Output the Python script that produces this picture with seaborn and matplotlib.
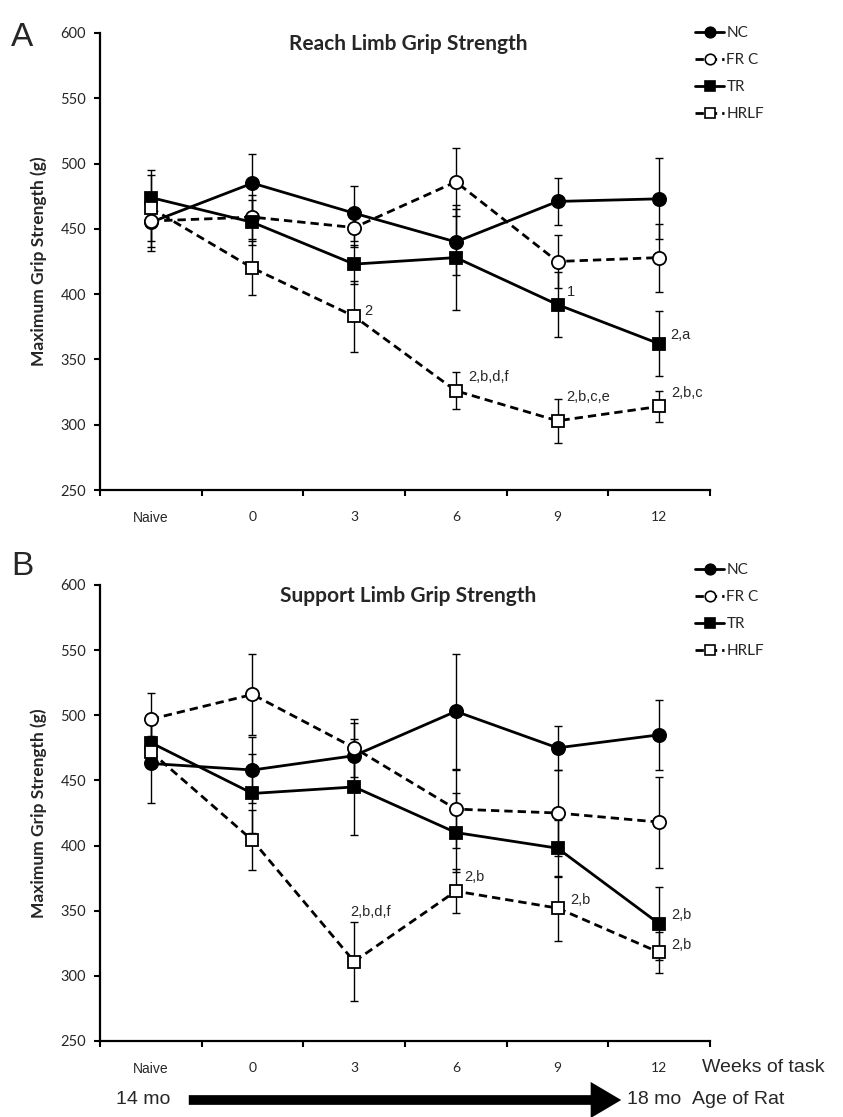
import matplotlib
matplotlib.use("Agg")
import numpy as np
import pandas as pd
import seaborn as sns
import matplotlib.pyplot as plt
from matplotlib.lines import Line2D
from matplotlib.patches import FancyArrowPatch

# ---------------- data ----------------
weeks = ["Naive", "0", "3", "6", "9", "12"]
groups = ["NC", "FR C", "TR", "HRLF"]

reach_nc = [455, 485, 462, 440, 471, 473]
reach_nc_err = [22, 22, 21, 25, 18, 31]
reach_frc = [456, 459, 451, 486, 425, 428]
reach_frc_err = [20, 17, 15, 26, 20, 26]
reach_tr = [474, 455, 423, 428, 392, 362]
reach_tr_err = [21, 17, 15, 40, 25, 25]
reach_hrlf = [466, 420, 383, 326, 303, 314]
reach_hrlf_err = [25, 21, 27, 14, 17, 12]

supp_nc = [463, 458, 469, 503, 475, 485]
supp_nc_err = [30, 25, 25, 44, 17, 27]
supp_frc = [497, 516, 475, 428, 425, 418]
supp_frc_err = [20, 31, 22, 30, 33, 35]
supp_tr = [479, 440, 445, 410, 398, 340]
supp_tr_err = [15, 30, 37, 30, 22, 28]
supp_hrlf = [472, 404, 311, 365, 352, 318]
supp_hrlf_err = [12, 23, 30, 17, 25, 16]

# annotations: (group, week index, text)
reach_notes = [("HRLF", 2, "2"), ("TR", 4, "1"), ("TR", 5, "2,a"),
               ("HRLF", 3, "2,b,d,f"), ("HRLF", 4, "2,b,c,e"), ("HRLF", 5, "2,b,c")]
supp_notes = [("HRLF", 2, "2,b,d,f"), ("HRLF", 3, "2,b"), ("HRLF", 4, "2,b"),
              ("TR", 5, "2,b"), ("HRLF", 5, "2,b")]

# ---------------- style ----------------
sns.set_theme(style="white")
plt.rcParams["font.family"] = ["Lato", "DejaVu Sans"]

W, H = 843, 1117
fig = plt.figure(figsize=(W / 100, H / 100), dpi=100)

def fx(px):
    return px / W

def fy(py):
    return 1 - py / H

styles = {
    "NC":   dict(marker="o", mfc="black", ls="-", ms=9.5),
    "FR C": dict(marker="o", mfc="white", ls=(0, (3, 1.8)), ms=9.5),
    "TR":   dict(marker="s", mfc="black", ls="-", ms=8.5),
    "HRLF": dict(marker="s", mfc="white", ls=(0, (3, 1.8)), ms=8.5),
}

def draw_panel(ax, series, errs, title, notes, label_offsets):
    pos = np.arange(len(weeks))
    for g in groups:
        df = pd.DataFrame({"pos": pos, "val": series[g], "week": weeks})
        st = styles[g]
        ax.errorbar(pos, series[g], yerr=errs[g], fmt="none", ecolor="black",
                    elinewidth=1.0, capsize=3, capthick=1.0, zorder=2)
        sns.lineplot(data=df, x="pos", y="val", ax=ax, color="black",
                     linewidth=2.0, linestyle=st["ls"], marker=st["marker"],
                     markersize=st["ms"], markerfacecolor=st["mfc"],
                     markeredgecolor="black", markeredgewidth=1.3,
                     errorbar=None, sort=False, zorder=3 + groups.index(g) * 0.1)
    ax.set_xlim(-0.5, 5.5)
    ax.set_ylim(250, 600)
    ax.set_yticks(np.arange(250, 601, 50))
    ax.set_xticks(pos)
    ax.set_xticklabels(weeks)
    ax.set_xticks(np.arange(-0.5, 6, 1), minor=True)
    ax.tick_params(axis="x", which="major", length=0, pad=15, labelsize=10)
    ax.tick_params(axis="x", which="minor", length=4, width=1.5, direction="out",
                   bottom=True, color="black")
    ax.tick_params(axis="y", which="major", length=4, width=1.5, direction="out",
                   left=True, pad=6, labelsize=10.5, color="black")
    ax.get_xticklabels()[0].set_family(["Liberation Sans"])
    for s in ["top", "right"]:
        ax.spines[s].set_visible(False)
    for s in ["left", "bottom"]:
        ax.spines[s].set_linewidth(1.6)
        ax.spines[s].set_color("black")
    ax.set_xlabel("")
    ax.set_ylabel("Maximum Grip Strength (g)", fontsize=12.5, fontweight="bold")
    ax.yaxis.set_label_coords(-0.087, 0.5)
    ax.text(0.505, 0.975, title, transform=ax.transAxes, ha="center", va="center",
            fontsize=15, fontweight="bold")
    for (g, i, txt), (dx, dy) in zip(notes, label_offsets):
        ax.annotate(txt, xy=(i, series[g][i]), xytext=(dx, dy), textcoords="offset points",
                    ha="left", va="center", fontsize=10.5, family=["Liberation Sans"])
    ax.grid(False)

ax_a = fig.add_axes([fx(100), fy(490), fx(710) - fx(100), fy(33) - fy(490)])
ax_b = fig.add_axes([fx(100), fy(1041), fx(710) - fx(100), fy(585) - fy(1041)])

reach = {"NC": reach_nc, "FR C": reach_frc, "TR": reach_tr, "HRLF": reach_hrlf}
reach_e = {"NC": reach_nc_err, "FR C": reach_frc_err, "TR": reach_tr_err, "HRLF": reach_hrlf_err}
supp = {"NC": supp_nc, "FR C": supp_frc, "TR": supp_tr, "HRLF": supp_hrlf}
supp_e = {"NC": supp_nc_err, "FR C": supp_frc_err, "TR": supp_tr_err, "HRLF": supp_hrlf_err}

draw_panel(ax_a, reach, reach_e, "Reach Limb Grip Strength", reach_notes,
           [(7, 4), (7, 9), (8, 6), (9, 10), (6, 17), (9, 10)])
draw_panel(ax_b, supp, supp_e, "Support Limb Grip Strength", supp_notes,
           [(-3, 36), (6, 10), (9, 6), (9, 6), (9, 5)])

# legends
def make_handles():
    hs = []
    for g in groups:
        st = styles[g]
        hs.append(Line2D([], [], color="black", linewidth=2.0, linestyle=st["ls"],
                         marker=st["marker"], markersize=st["ms"] * 0.8,
                         markerfacecolor=st["mfc"], markeredgecolor="black",
                         markeredgewidth=1.2))
    return hs

for ytop in (26, 563):
    fig.legend(make_handles(), groups, loc="upper left",
               bbox_to_anchor=(fx(695), fy(ytop)), bbox_transform=fig.transFigure,
               frameon=False, fontsize=11, handlelength=1.9, handletextpad=0.15,
               labelspacing=0.85, borderpad=0, borderaxespad=0)

# panel letters
fig.text(fx(11), fy(46), "A", fontsize=24, family=["Liberation Sans"], ha="left", va="baseline")
fig.text(fx(11), fy(575), "B", fontsize=24, family=["Liberation Sans"], ha="left", va="baseline")

# bottom rows
narrow = ["Liberation Sans Narrow", "Liberation Sans"]
fig.text(fx(702), fy(1068), "Weeks of task", fontsize=14, family=narrow, ha="left", va="center")
fig.text(fx(116), fy(1100), "14 mo", fontsize=14, family=narrow, ha="left", va="center")
fig.text(fx(627), fy(1100), "18 mo", fontsize=14, family=narrow, ha="left", va="center")
fig.text(fx(692), fy(1100), "Age of Rat", fontsize=14, family=narrow, ha="left", va="center")
arrow = FancyArrowPatch((fx(186), fy(1100)), (fx(624), fy(1100)),
                        transform=fig.transFigure,
                        arrowstyle="simple,head_length=1.1,head_width=1.3,tail_width=0.35",
                        mutation_scale=20, color="black", lw=0)
fig.add_artist(arrow)

fig.savefig("out.png", dpi=100)
